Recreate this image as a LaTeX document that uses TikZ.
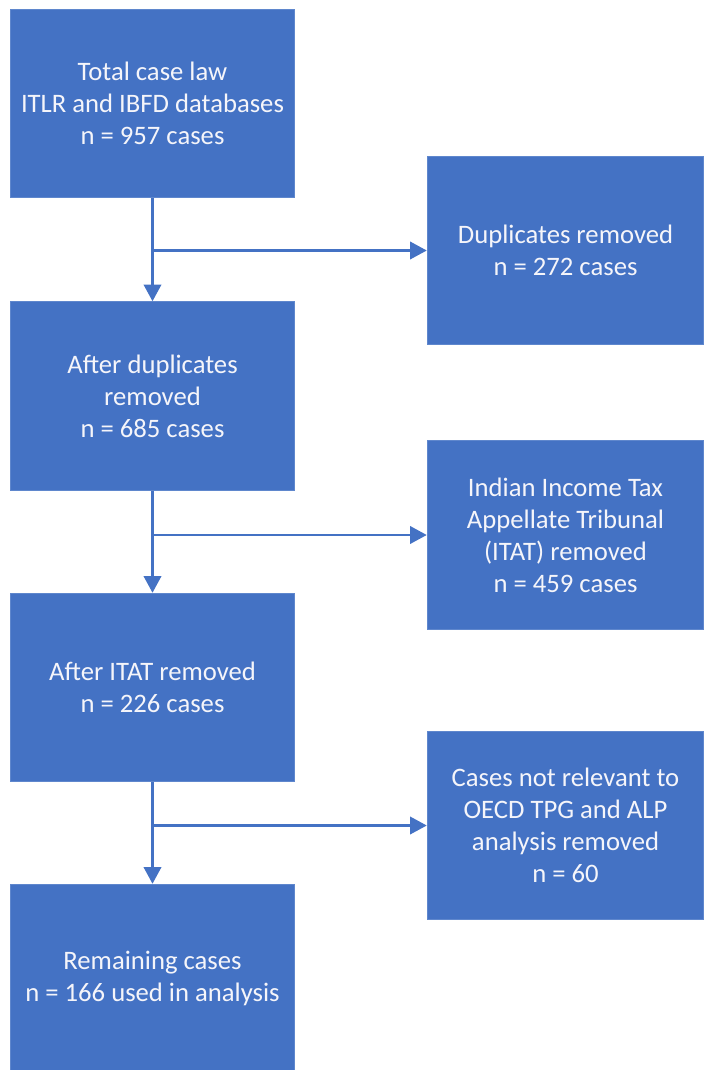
\documentclass[tikz,border=0pt]{standalone}
\usepackage{fontspec}
\setmainfont{Carlito}
\usepackage{xcolor}
\usepackage{tikz}
\usetikzlibrary{arrows.meta, positioning, calc}
\definecolor{myblue}{RGB}{68,114,196}
\definecolor{myedge}{RGB}{95,135,205}
\definecolor{mytext}{RGB}{245,245,250}
\tikzset{
  stagebox/.style={rectangle, draw=myedge, fill=myblue, text=mytext,
    minimum width=213.5pt, minimum height=141.5pt, align=center,
    font=\fontsize{20}{24}\selectfont, line width=0.6pt, inner sep=4pt},
  dropbox/.style={stagebox, minimum width=207.5pt},
  flowarrow/.style={-{Triangle[length=12.5pt,width=13pt]}, line width=1.9pt, color=myblue},
  flowline/.style={line width=1.9pt, color=myblue}
}

\begin{document}
\begin{tikzpicture}[x=0.75pt, y=-0.75pt]
  \clip (0,0) rectangle (704,1070);
  % Left column
  \node[stagebox] (total) at (152.5, 103.5) {Total case law\\ITLR and IBFD databases\\n = 957 cases};
  \node[stagebox] (afterdup) at (152.5, 396) {After duplicates\\removed\\n = 685 cases};
  \node[stagebox] (afteritat) at (152.5, 687.5) {After ITAT removed\\n = 226 cases};
  \node[stagebox] (remain) at (152.5, 978.5) {Remaining cases\\n = 166 used in analysis};

  % Right column
  \node[dropbox] (dups) at (565.5, 250.5) {Duplicates removed\\n = 272 cases};
  \node[dropbox] (itat) at (565.5, 535) {Indian Income Tax\\Appellate Tribunal\\(ITAT) removed\\n = 459 cases};
  \node[dropbox] (notrel) at (565.5, 825.5) {Cases not relevant to\\OECD TPG and ALP\\analysis removed\\n = 60};

  % Arrows
  \draw[flowarrow] (total.south) -- (afterdup.north);
  \draw[flowarrow] (total.south |- dups.west) -- (dups.west);
  \draw[flowarrow] (afterdup.south) -- (afteritat.north);
  \draw[flowarrow] (afterdup.south |- itat.west) -- (itat.west);
  \draw[flowarrow] (afteritat.south) -- (remain.north);
  \draw[flowarrow] (afteritat.south |- notrel.west) -- (notrel.west);
\end{tikzpicture}
\end{document}
